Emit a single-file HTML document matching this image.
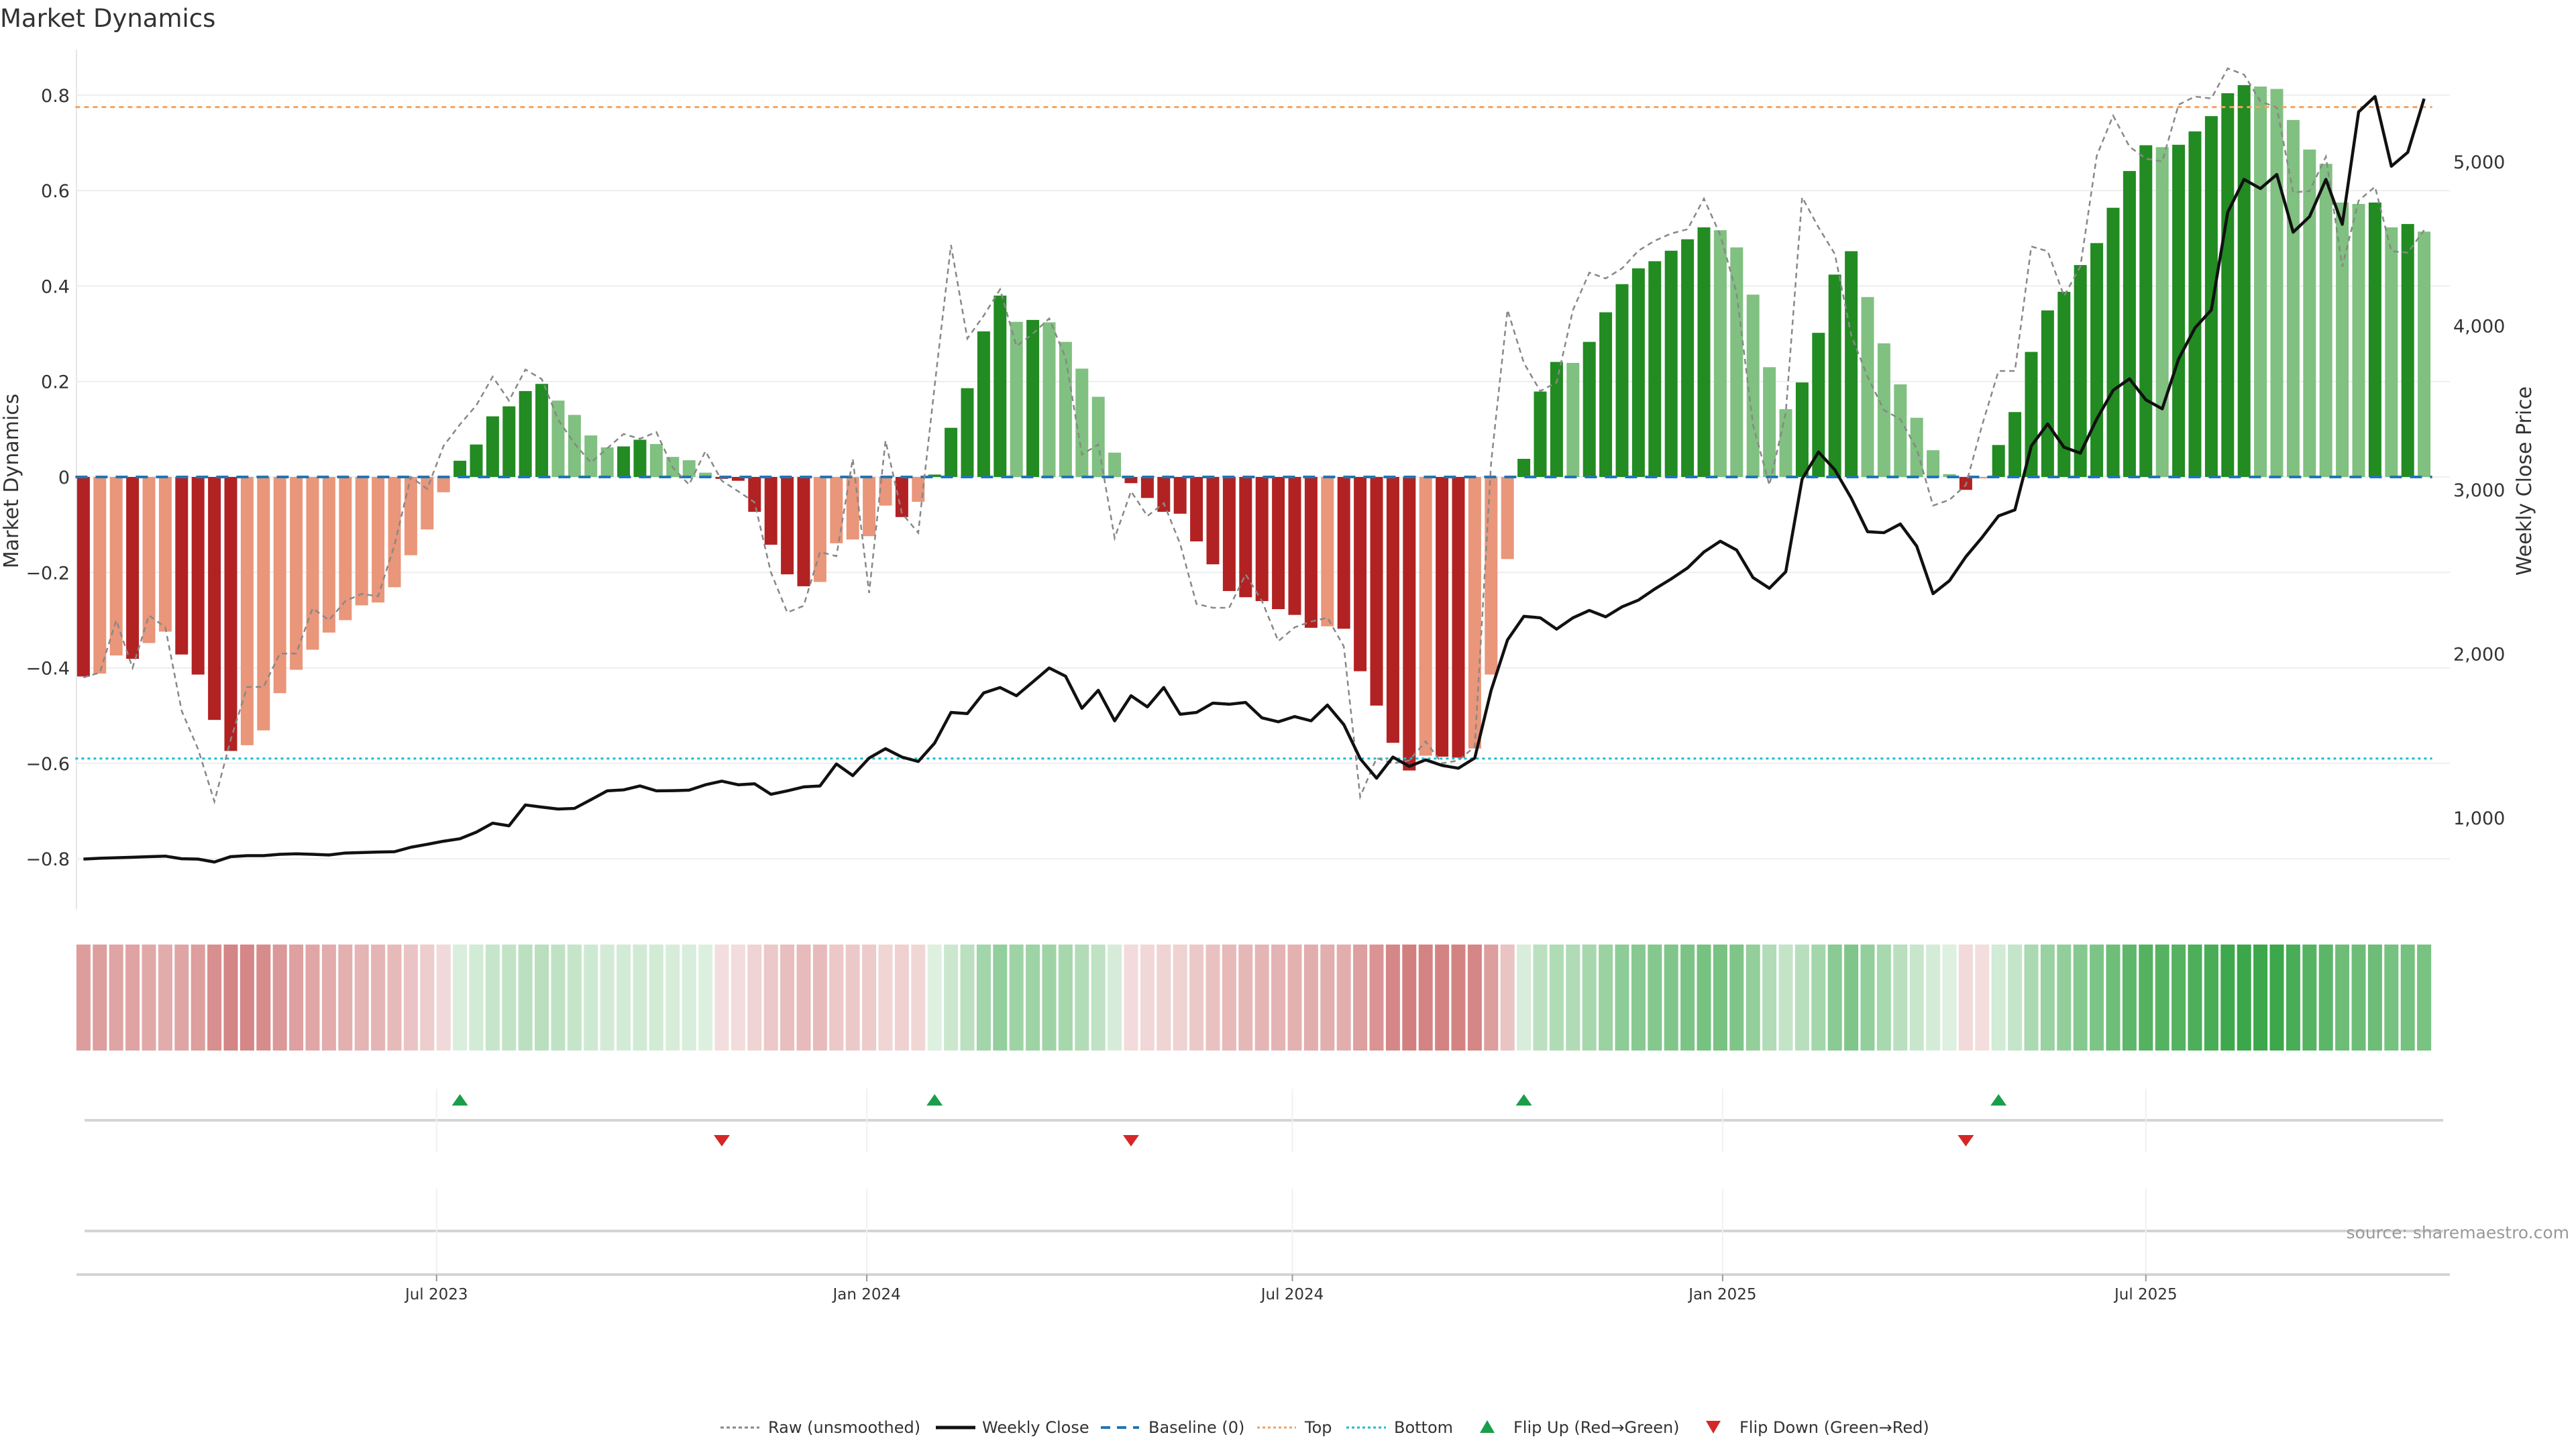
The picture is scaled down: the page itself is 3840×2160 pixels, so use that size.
<!DOCTYPE html>
<html><head><meta charset="utf-8"><title>Market Dynamics</title>
<style>
html,body{margin:0;padding:0;background:#fff;}
svg{display:block;font-family:"DejaVu Sans","Liberation Sans",sans-serif;}
</style></head>
<body>
<svg id="chart" xmlns="http://www.w3.org/2000/svg" width="3840" height="2160" viewBox="0 0 3840 2160">
<rect x="0" y="0" width="3840" height="2160" fill="#fff"/>
<text x="0" y="40" font-size="37" fill="#333">Market Dynamics</text>
<text transform="translate(27,717) rotate(-90)" text-anchor="middle" font-size="30" fill="#333">Market Dynamics</text>
<text transform="translate(3773,717) rotate(-90)" text-anchor="middle" font-size="30" fill="#333">Weekly Close Price</text>
<g id="grid"></g>
<g id="bars"></g>
<g id="refs"></g>
<g id="lines"></g>
<g id="strip"></g>
<g id="flips"></g>
<g id="xaxis"></g>
<text x="3830" y="1846" text-anchor="end" font-size="25" fill="#999">source: sharemaestro.com</text>
<g id="legend"></g>
</svg>
<script>
const smooth = [-0.418,-0.412,-0.374,-0.381,-0.348,-0.324,-0.372,-0.414,-0.509,-0.574,
-0.562,-0.531,-0.453,-0.404,-0.362,-0.326,-0.300,-0.269,-0.263,-0.231,
-0.164,-0.110,-0.032,0.034,0.068,0.127,0.148,0.18,0.195,0.16,
0.130,0.087,0.062,0.064,0.078,0.069,0.042,0.035,0.009,-0.004,
-0.008,-0.073,-0.142,-0.204,-0.229,-0.220,-0.139,-0.131,-0.124,
-0.060,-0.084,-0.052,0.005,0.103,0.186,0.305,0.380,0.325,0.329,0.324,
0.283,0.227,0.168,0.051,-0.013,-0.044,-0.073,-0.077,-0.135,-0.183,
-0.239,-0.252,-0.260,-0.277,-0.289,-0.316,-0.313,-0.318,-0.407,-0.479,
-0.557,-0.615,-0.584,-0.586,-0.588,-0.569,-0.414,-0.172,0.038,0.179,
0.241,0.239,0.283,0.345,0.404,0.437,0.452,0.474,0.498,0.523,0.517,0.481,
0.382,0.230,0.142,0.198,0.302,0.424,0.473,0.377,0.280,0.194,0.124,0.056,0.006,
-0.027,-0.003,0.067,0.136,0.262,0.349,0.388,0.444,0.490,0.564,0.641,0.695,0.691,
0.696,0.724,0.756,0.804,0.821,0.818,0.813,0.748,0.686,0.656,0.575,0.572,0.575,
0.523,0.530,0.514];
const raw = [-0.42,-0.41,-0.30,-0.40,-0.29,-0.315,-0.49,-0.57,-0.68,-0.55,
-0.44,-0.44,-0.37,-0.37,-0.275,-0.30,-0.26,-0.245,-0.25,-0.143,
0,-0.025,0.065,0.11,0.15,0.21,0.16,0.225,0.205,0.12,
0.07,0.03,0.06,0.09,0.08,0.094,0.02,-0.016,0.054,-0.008,
-0.03,-0.053,-0.2,-0.284,-0.27,-0.157,-0.166,0.038,-0.243,
0.076,-0.076,-0.117,0.19,0.486,0.29,0.338,0.393,0.274,0.30,0.332,0.25,0.047,0.068,-0.128,
-0.03,-0.082,-0.055,-0.14,-0.266,-0.274,-0.274,-0.204,-0.26,-0.344,-0.315,-0.303,-0.295,-0.355,
-0.67,-0.589,-0.60,-0.594,-0.554,-0.60,-0.594,-0.565,0.03,0.35,0.239,0.18,0.198,0.35,0.428,
0.416,0.437,0.474,0.495,0.51,0.519,0.583,0.507,0.385,
0.109,-0.017,0.134,0.586,0.523,0.467,0.297,0.21,0.14,0.121,0.059,-0.06,-0.048,-0.017,0.109,
0.222,0.222,0.483,0.473,0.379,0.441,0.673,0.757,0.692,0.667,0.661,0.78,0.797,0.793,0.856,
0.843,0.787,0.774,0.596,0.599,0.671,0.441,0.579,0.608,0.473,0.47,0.517];
const closePx = [748,753,756,759,763,766,750,748,730,763,769,769,777,780,777,773,785,788,791,793,
820,838,857,872,912,967,951,1078,1065,1053,1057,1110,1164,1170,1194,1164,1165,1168,1201,1223,
1201,1207,1143,1164,1188,1194,1328,1257,1364,
1421,1370,1343,1455,1642,1635,1761,1794,1744,1828,1913,1863,1667,1777,1591,1744,1676,1794,1631,
1642,1699,1692,1703,1609,1585,1617,1591,1687,1568,1360,1241,1370,1313,1353,1319,1302,1364,1777,
2084,2228,2219,2150,2219,2264,2225,2286,2327,2395,2456,2523,2620,2686,2632,
2464,2399,2500,3065,3230,3121,2949,2744,2738,2791,2656,2366,2445,2591,2710,2840,2877,3266,3401,
3259,3223,3431,3606,3676,3548,3493,3797,3986,4096,4691,4892,4836,4922,4570,4665,4892,4618,5304,
5397,4972,5057,5384];
const flipUp = [23,52,88,117];
const flipDown = [39,64,115];
const leftTicks = [-0.8,-0.6,-0.4,-0.2,0,0.2,0.4,0.6,0.8];
const rightTicks = [1000,2000,3000,4000,5000];
const dateTicks = ["2023-07-01","2024-01-01","2024-07-01","2025-01-01","2025-07-01"];
const dateLabels = ["Jul 2023","Jan 2024","Jul 2024","Jan 2025","Jul 2025"];
const topLevel = 0.775;
const bottomLevel = -0.59;
const startDate = "2023-01-31";

const NS = "http://www.w3.org/2000/svg";
const X0 = 124.4, STEP = 24.4, PL = 114, PR = 3652;
const xIdx = i => X0 + i*STEP;
const xDate = d => X0 + (Date.parse(d) - Date.parse(startDate))/(7*86400000)*STEP;
const yL = v => 711 - v*711.5;
const yR = p => 730 - (p-3000)*0.2445;
function mk(tag, attrs, parent){ const e=document.createElementNS(NS,tag); for(const k in attrs) e.setAttribute(k,attrs[k]); parent.appendChild(e); return e; }
const G = id => document.getElementById(id);

// grid + ticks
const grid = G('grid');
mk('line',{x1:PL,x2:PL,y1:74,y2:1356,stroke:'#e6e6e6','stroke-width':2},grid);
leftTicks.forEach(v=>{
  const l = mk('line',{x1:PL,x2:PR,y1:yL(v),y2:yL(v),stroke:'#eeeeee','stroke-width':2},grid);
  
  
  const t = mk('text',{x:104,y:yL(v)+10,'text-anchor':'end','font-size':27,fill:'#333'},grid);
  t.textContent = v===0 ? '0' : (v<0?'\u2212':'') + Math.abs(v).toFixed(1);
  
  
});
rightTicks.forEach(p=>{
  const t = mk('text',{x:3657,y:yR(p)+10,'font-size':27,fill:'#333'},grid);
  t.textContent = p.toLocaleString('en-US');
  
  
});

// bars
const bars = G('bars');
smooth.forEach((v,i)=>{
  const prev = i>0 ? smooth[i-1] : v;
  let fill;
  if(v>=0) fill = (v>=prev) ? '#228b22' : '#80c080';
  else fill = (v<=prev) ? '#b22222' : '#e9967a';
  const r = mk('rect',{x:xIdx(i)-9.5,width:19,y:Math.min(yL(v),yL(0)),height:Math.max(0.5,Math.abs(yL(v)-yL(0))),fill:fill},bars);
  
  
});

// reference lines
const refs = G('refs');
const xs = xIdx(0)-12, xe = xIdx(smooth.length-1)+12;
const topL = mk('line',{x1:xs,x2:xe,y1:yL(topLevel),y2:yL(topLevel),stroke:'#f4a261','stroke-width':3,'stroke-dasharray':'7 6'},refs);


const botL = mk('line',{x1:xs,x2:xe,y1:yL(bottomLevel),y2:yL(bottomLevel),stroke:'#17becf','stroke-width':3,'stroke-dasharray':'4 5'},refs);


const base = mk('line',{x1:xs,x2:xe,y1:yL(0),y2:yL(0),stroke:'#1f77b4','stroke-width':4,'stroke-dasharray':'18 12'},refs);



// lines
const lines = G('lines');
const rp = mk('polyline',{points:raw.map((v,i)=>xIdx(i)+','+yL(v)).join(' '),fill:'none',stroke:'#888','stroke-width':2.5,'stroke-dasharray':'8 6'},lines);


const cp = mk('polyline',{points:closePx.map((p,i)=>xIdx(i)+','+yR(p)).join(' '),fill:'none',stroke:'#111','stroke-width':4.5,'stroke-linejoin':'round'},lines);



// strip
const strip = G('strip');
smooth.forEach((v,i)=>{
  const a = Math.min(1, 0.15 + (v>=0 ? 0.95 : 0.7)*Math.abs(v));
  const c = mk('rect',{x:xIdx(i)-10.5,width:21,y:1408,height:158,fill:v>=0?'#2ca03c':'#b22222','fill-opacity':a.toFixed(3)},strip);
  
  
});

// flip panel + x axis
const flips = G('flips'), xaxis = G('xaxis');
mk('line',{x1:126,x2:3642,y1:1670,y2:1670,stroke:'#d4d4d4','stroke-width':4},flips);
mk('line',{x1:126,x2:3642,y1:1835,y2:1835,stroke:'#d4d4d4','stroke-width':4},flips);
mk('line',{x1:PL,x2:PR,y1:1900,y2:1900,stroke:'#d4d4d4','stroke-width':4},xaxis);
dateTicks.forEach((d,k)=>{
  const x = xDate(d);
  mk('line',{x1:x,x2:x,y1:1623,y2:1718,stroke:'#eef2f2','stroke-width':2},flips);
  mk('line',{x1:x,x2:x,y1:1772,y2:1898,stroke:'#eef2f2','stroke-width':2},flips);
  mk('line',{x1:x,x2:x,y1:1900,y2:1910,stroke:'#999','stroke-width':2},xaxis);
  const t = mk('text',{x:x,y:1937,'text-anchor':'middle','font-size':23,fill:'#333'},xaxis);
  t.textContent = dateLabels[k];
  
  
});
flipUp.forEach(i=>{
  const x = xIdx(i);
  const m = mk('polygon',{points:`${x-12},1648 ${x+12},1648 ${x},1631`,fill:'#1a9e4a'},flips);
  
  
});
flipDown.forEach(i=>{
  const x = xIdx(i);
  const m = mk('polygon',{points:`${x-12},1692 ${x+12},1692 ${x},1709`,fill:'#d62728'},flips);
  
  
});

// legend
const lg = G('legend'), LY = 2128;
function ltext(x,s){ const t=mk('text',{x:x,y:LY+8,'font-size':24,fill:'#333'},lg); t.textContent=s;   }
mk('line',{x1:1074,x2:1132,y1:LY,y2:LY,stroke:'#888','stroke-width':3,'stroke-dasharray':'5 4'},lg); ltext(1145,'Raw (unsmoothed)');
mk('line',{x1:1395,x2:1454,y1:LY,y2:LY,stroke:'#111','stroke-width':5},lg); ltext(1464,'Weekly Close');
mk('line',{x1:1641,x2:1698,y1:LY,y2:LY,stroke:'#1f77b4','stroke-width':4,'stroke-dasharray':'14 10'},lg); ltext(1712,'Baseline (0)');
mk('line',{x1:1874,x2:1932,y1:LY,y2:LY,stroke:'#f4a261','stroke-width':3,'stroke-dasharray':'4 4'},lg); ltext(1945,'Top');
mk('line',{x1:2007,x2:2066,y1:LY,y2:LY,stroke:'#17becf','stroke-width':3,'stroke-dasharray':'4 4'},lg); ltext(2078,'Bottom');
mk('polygon',{points:'2206,2136 2228,2136 2217,2117',fill:'#1a9e4a'},lg); ltext(2256,'Flip Up (Red\u2192Green)');
mk('polygon',{points:'2543,2118 2565,2118 2554,2137',fill:'#d62728'},lg); ltext(2593,'Flip Down (Green\u2192Red)');
</script>
</body></html>
